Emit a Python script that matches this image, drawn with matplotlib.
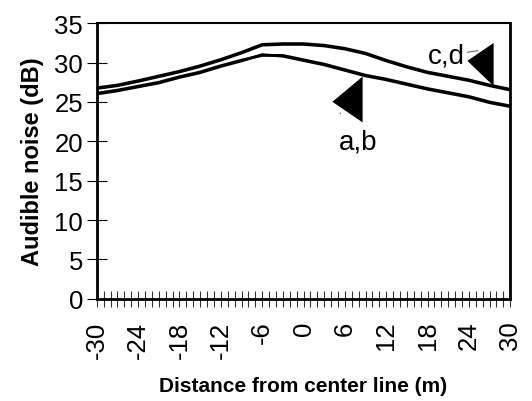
import matplotlib
matplotlib.use("Agg")
import matplotlib.pyplot as plt
from matplotlib.ticker import MultipleLocator

plt.rcParams['font.family'] = ['Liberation Sans', 'DejaVu Sans']

# distance from center line (m)
distance = [-30, -27, -24, -21, -18, -15, -12, -9, -6, -3, 0, 3, 6, 9, 12, 15, 18, 21, 24, 27, 30]

# audible noise (dB)
noise_a = [26.1, 26.5, 27.0, 27.5, 28.2, 28.8, 29.6, 30.3, 30.9, 30.9, 30.35, 29.8, 29.1, 28.4, 27.9, 27.3, 26.7, 26.2, 25.7, 25.0, 24.5]
noise_b = [26.0, 26.4, 26.9, 27.4, 28.1, 28.7, 29.5, 30.2, 31.0, 30.8, 30.25, 29.7, 29.0, 28.3, 27.8, 27.2, 26.6, 26.1, 25.6, 24.9, 24.4]
noise_c = [26.7, 27.05, 27.6, 28.2, 28.8, 29.5, 30.3, 31.2, 32.2, 32.3, 32.3, 32.1, 31.7, 31.1, 30.2, 29.4, 28.7, 28.2, 27.7, 27.05, 26.5]
noise_d = [26.8, 27.15, 27.7, 28.3, 28.9, 29.6, 30.4, 31.3, 32.3, 32.4, 32.4, 32.2, 31.8, 31.2, 30.3, 29.5, 28.8, 28.3, 27.8, 27.15, 26.6]

x_ticks = [-30, -24, -18, -12, -6, 0, 6, 12, 18, 24, 30]
y_ticks = [0, 5, 10, 15, 20, 25, 30, 35]

fig = plt.figure(figsize=(5.32, 4.02), dpi=100)
ax = fig.add_axes([0.182, 0.254, 0.777, 0.686])

for ys in (noise_a, noise_b, noise_c, noise_d):
    ax.plot(distance, ys, color='black', lw=2.0, solid_capstyle='butt')

# black arrow-head markers pointing at the curves
tri_ab = [(-0.66, -0.1), (0.66, 1.0), (0.66, -1.0)]
tri_cd = [(-0.61, 0.17), (0.61, 1.0), (0.61, -1.0)]
ax.plot([6.32], [25.4], marker=tri_ab, ms=33, color='black', mew=0, ls='none')
ax.plot([25.6], [29.8], marker=tri_cd, ms=31, color='black', mew=0, ls='none')

ax.annotate('a,b', xy=(5.3, 23.6), xytext=(7.9, 20.0), fontsize=20,
            ha='center', va='center',
            arrowprops=dict(arrowstyle='-', color='#555555', lw=0.7, shrinkA=10, shrinkB=0))
ax.annotate('c,d', xy=(25.3, 31.5), xytext=(20.7, 30.9), fontsize=20,
            ha='center', va='center',
            arrowprops=dict(arrowstyle='-', color='#555555', lw=0.7, shrinkA=16, shrinkB=0))

ax.set_xlim(-30, 30)
ax.set_ylim(0, 35)
ax.set_xticks(x_ticks)
ax.set_xticklabels([str(v) for v in x_ticks], rotation=90)
ax.set_yticks(y_ticks)
ax.xaxis.set_minor_locator(MultipleLocator(1))

ax.tick_params(axis='x', which='both', direction='inout', length=11, width=0.8,
               color='#333333', labelsize=18.5, pad=10)
ax.tick_params(axis='y', which='major', direction='inout', length=14, width=0.8,
               labelsize=18.5, pad=3)

for side in ('left', 'bottom', 'right'):
    ax.spines[side].set_linewidth(2.0)
ax.spines['top'].set_linewidth(1.5)

ax.set_xlabel('Distance from center line (m)', fontsize=15, fontweight='bold', labelpad=13)
ax.set_ylabel('Audible noise (dB)', fontsize=17, fontweight='bold', labelpad=7)

fig.savefig('out.png', dpi=100)
